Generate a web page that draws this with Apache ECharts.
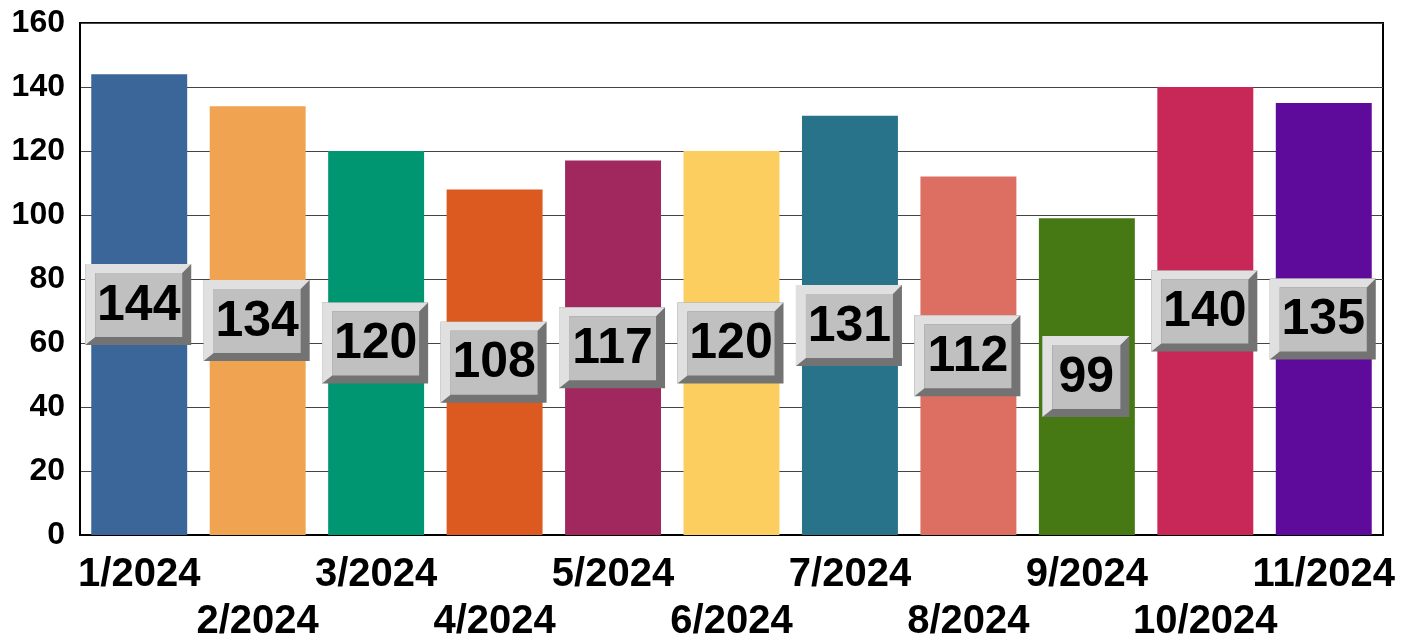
<!DOCTYPE html>
<html>
<head>
<meta charset="utf-8">
<script src="https://cdn.jsdelivr.net/npm/echarts@6/dist/echarts.min.js"></script>
<style>html,body{margin:0;padding:0;background:#fff}#c{width:1416px;height:641px}</style>
</head>
<body>
<div id="c"></div>
<script>
const categories = ['1/2024','2/2024','3/2024','4/2024','5/2024','6/2024','7/2024','8/2024','9/2024','10/2024','11/2024'];
const values = [144,134,120,108,117,120,131,112,99,140,135];
const barColors = ['#3a6699','#f0a452','#009672','#dc5a20','#a0285e','#fcce60','#28738a','#dc6e62','#467814','#c82858','#5e0a9a'];
const yTicks = [0,20,40,60,80,100,120,140,160];

const chart = echarts.init(document.getElementById('c'));
const font = 'Arial, "Liberation Sans", sans-serif';

function renderBox(params, api) {
  const v = api.value(1);
  const p = api.coord([api.value(0), v / 2]);
  const txt = String(v);
  const w = 49 + 19 * txt.length, h = 81;
  const x0 = p[0] - w / 2 - 1, y0 = p[1] - h / 2, x1 = x0 + w, y1 = y0 + h;
  const ix0 = x0 + 10, iy0 = y0 + 9, ix1 = x1 - 9, iy1 = y1 - 8;
  return {
    type: 'group',
    children: [
      { type: 'rect', shape: { x: x0, y: y0, width: w, height: h }, style: { fill: '#737373' } },
      { type: 'polygon', shape: { points: [[x0,y0],[x1,y0],[ix1,iy0],[ix0,iy0],[ix0,iy1],[x0,y1]] }, style: { fill: '#e0e0e0' } },
      { type: 'rect', shape: { x: ix0, y: iy0, width: ix1 - ix0, height: iy1 - iy0 }, style: { fill: '#c0c0c0' } },
      { type: 'text', style: { text: txt, x: (ix0 + ix1) / 2, y: (iy0 + iy1) / 2 + 1, align: 'center', verticalAlign: 'middle', font: 'bold 50px ' + font, fill: '#000' } }
    ]
  };
}

chart.setOption({
  animation: false,
  grid: { left: 80, right: 33, top: 23, bottom: 106, show: true, borderColor: '#000', borderWidth: 2, containLabel: false, outerBoundsMode: 'none' },
  xAxis: {
    type: 'category',
    data: categories,
    axisTick: { show: false },
    axisLine: { lineStyle: { color: '#000', width: 2 } },
    axisLabel: {
      interval: 0,
      margin: 16,
      color: '#000',
      fontFamily: font,
      fontWeight: 'bold',
      fontSize: 40,
      lineHeight: 47,
      formatter: (v, i) => (i % 2 === 1 ? '\n' + v : v)
    }
  },
  yAxis: {
    type: 'value',
    min: yTicks[0],
    max: yTicks[yTicks.length - 1],
    interval: yTicks[1] - yTicks[0],
    axisLine: { show: true, lineStyle: { color: '#000', width: 2 } },
    axisTick: { show: false },
    splitLine: { lineStyle: { color: '#444', width: 1.2 } },
    axisLabel: { margin: 15, color: '#000', fontFamily: font, fontWeight: 'bold', fontSize: 32 }
  },
  series: [
    {
      type: 'bar',
      barWidth: '81%',
      data: values.map((v, i) => ({ value: v, itemStyle: { color: barColors[i] } })),
      z: 2
    },
    {
      type: 'custom',
      renderItem: renderBox,
      data: values.map((v, i) => [i, v]),
      z: 5,
      clip: false
    }
  ]
});
</script>
</body>
</html>
